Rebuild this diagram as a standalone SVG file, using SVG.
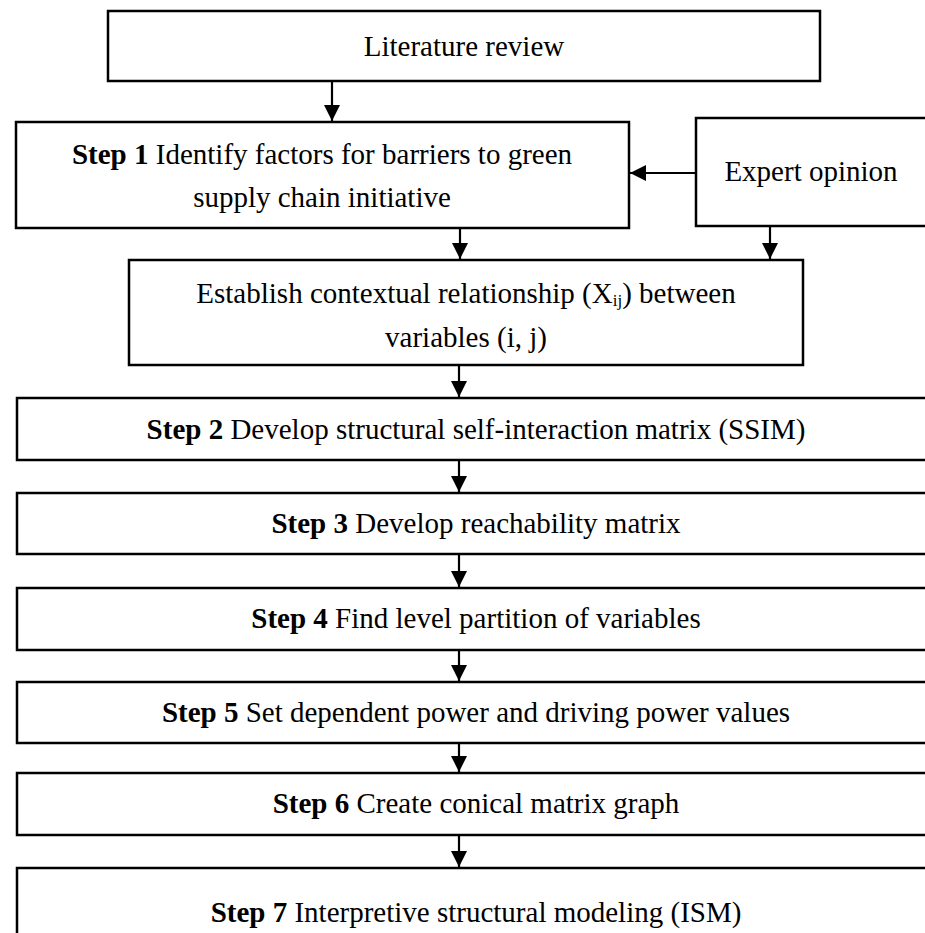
<svg xmlns="http://www.w3.org/2000/svg" width="925" height="933" viewBox="0 0 925 933">
<style>
  .box { fill: #fff; stroke: #000; stroke-width: 2.5; }
  .t { font-family: "Liberation Serif", "Times New Roman", serif; font-size: 29px; fill: #000; text-anchor: middle; }
  .b { font-weight: bold; }
  .c { stroke: #000; stroke-width: 2.2; fill: none; marker-end: url(#ah); }
</style>
<defs>
  <marker id="ah" viewBox="0 0 16 16" refX="16" refY="8" markerWidth="16" markerHeight="16" markerUnits="userSpaceOnUse" orient="auto">
    <path d="M0,0 L16,8 L0,16 Z" fill="#000"/>
  </marker>
</defs>
<rect width="925" height="933" fill="#fff"/>
<g id="connectors">
  <line class="c" x1="332" y1="81" x2="332" y2="121"/>
  <line class="c" x1="696" y1="173" x2="630" y2="173"/>
  <line class="c" x1="460" y1="228" x2="460" y2="259"/>
  <line class="c" x1="770" y1="226" x2="770" y2="259"/>
  <line class="c" x1="459" y1="366" x2="459" y2="397"/>
  <line class="c" x1="459" y1="460" x2="459" y2="492"/>
  <line class="c" x1="459" y1="554" x2="459" y2="587"/>
  <line class="c" x1="459" y1="650" x2="459" y2="681"/>
  <line class="c" x1="459" y1="743" x2="459" y2="772"/>
  <line class="c" x1="459" y1="835" x2="459" y2="867"/>
</g>
<g id="literature">
  <rect class="box" x="108" y="11" width="712" height="70"/>
  <text class="t" x="464" y="56">Literature review</text>
</g>
<g id="step1">
  <rect class="box" x="16" y="122" width="613" height="106"/>
  <text class="t" x="322" y="164"><tspan class="b">Step 1</tspan> Identify factors for barriers to green</text>
  <text class="t" x="322" y="207">supply chain initiative</text>
</g>
<g id="expert">
  <rect class="box" x="696" y="118" width="240" height="108"/>
  <text class="t" x="811" y="181">Expert opinion</text>
</g>
<g id="establish">
  <rect class="box" x="129" y="260" width="674" height="105"/>
  <text class="t" x="466" y="303">Establish contextual relationship (X<tspan font-size="17" dy="3">ij</tspan><tspan dy="-3">) between</tspan></text>
  <text class="t" x="466" y="347">variables (i, j)</text>
</g>
<g id="step2">
  <rect class="box" x="17" y="398" width="920" height="62"/>
  <text class="t" x="476" y="439"><tspan class="b">Step 2</tspan> Develop structural self-interaction matrix (SSIM)</text>
</g>
<g id="step3">
  <rect class="box" x="17" y="493" width="920" height="61"/>
  <text class="t" x="476" y="533"><tspan class="b">Step 3</tspan> Develop reachability matrix</text>
</g>
<g id="step4">
  <rect class="box" x="17" y="588" width="920" height="62"/>
  <text class="t" x="476" y="628"><tspan class="b">Step 4</tspan> Find level partition of variables</text>
</g>
<g id="step5">
  <rect class="box" x="17" y="682" width="920" height="61"/>
  <text class="t" x="476" y="722"><tspan class="b">Step 5</tspan> Set dependent power and driving power values</text>
</g>
<g id="step6">
  <rect class="box" x="17" y="773" width="920" height="62"/>
  <text class="t" x="476" y="813"><tspan class="b">Step 6</tspan> Create conical matrix graph</text>
</g>
<g id="step7">
  <rect class="box" x="17" y="868" width="920" height="80"/>
  <text class="t" x="476" y="922"><tspan class="b">Step 7</tspan> Interpretive structural modeling (ISM)</text>
</g>
</svg>
